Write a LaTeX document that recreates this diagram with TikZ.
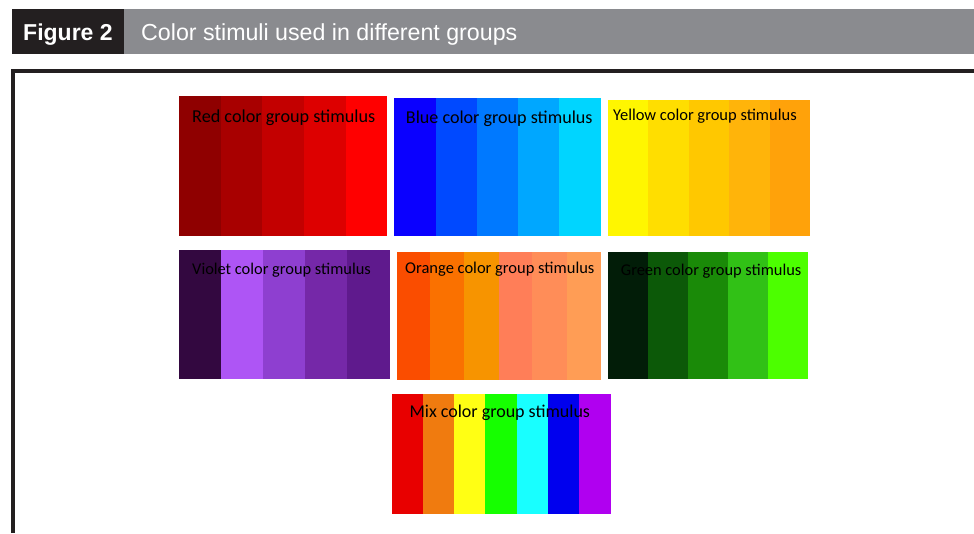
\documentclass[tikz,border=0pt]{standalone}
\usepackage{fontspec}
\setmainfont{Liberation Sans}
\newfontfamily\stimfont{Carlito}
\definecolor{hdrdark}{HTML}{231F20}
\definecolor{hdrgray}{HTML}{8A8B8F}
\definecolor{framec}{HTML}{231F20}
\tikzset{
  stripe/.style={fill=#1, draw=none},
  stimlabel/.style={anchor=base west, inner sep=0pt, text=black, font=\stimfont\fontsize{#1}{#1}\selectfont},
  hdrtext/.style={anchor=base west, inner sep=0pt, text=white},
}
\begin{document}
\begin{tikzpicture}[x=1pt,y=-1pt]
\useasboundingbox (0,0) rectangle (974,533);
% header
\fill[hdrdark] (12,9) rectangle (124,54);
\fill[hdrgray] (124,9) rectangle (974,54);
\node[hdrtext, font=\bfseries\fontsize{23}{23}\selectfont] (figlabel) at (23,40) {Figure 2};
\node[hdrtext, font=\fontsize{23.2}{23.2}\selectfont] (figtitle) at (141,40) {Color stimuli used in different groups};
% frame
\draw[framec, line width=4pt] (13,533) -- (13,71) -- (974,71);
% red
\foreach \xa/\xb/\c in {179/221/8F0000, 221/262.3/A80000, 262.3/304.3/C30000, 304.3/345.7/DD0000, 345.7/387/FF0000}
  {\definecolor{tmp}{HTML}{\c}\fill[tmp] (\xa,96) rectangle (\xb,235.7);}
\node[stimlabel=18.2] (redlab) at (192,122.3) {Red color group stimulus};
% blue
\foreach \xa/\xb/\c in {394/436/0A00FF, 436/477/0049FF, 477/518/0079FF, 518/559/00A7FF, 559/601/00D5FF}
  {\definecolor{tmp}{HTML}{\c}\fill[tmp] (\xa,98.3) rectangle (\xb,235.7);}
\node[stimlabel=18.1] (bluelab) at (405.7,123.3) {Blue color group stimulus};
% yellow
\foreach \xa/\xb/\c in {608/648/FFF600, 648/688.7/FFDE00, 688.7/729.3/FFC800, 729.3/770/FFB40A, 770/810/FFA20A}
  {\definecolor{tmp}{HTML}{\c}\fill[tmp] (\xa,100) rectangle (\xb,235.7);}
\node[stimlabel=16.5] (yellab) at (613,120.7) {Yellow color group stimulus};
% violet
\foreach \xa/\xb/\c in {179/221/330840, 221/263/AE55F5, 263/305/8E3FD0, 305/347/7528A8, 347/390/5F1A8D}
  {\definecolor{tmp}{HTML}{\c}\fill[tmp] (\xa,250) rectangle (\xb,378.7);}
\node[stimlabel=16.4] (viollab) at (192,274.7) {Violet color group stimulus};
% orange
\foreach \xa/\xb/\c in {397/430/FA4D00, 430/464.3/FA7100, 464.3/499/F79400, 499/532.3/FF7E58, 532.3/567/FF8D58, 567/601/FF9D55}
  {\definecolor{tmp}{HTML}{\c}\fill[tmp] (\xa,252) rectangle (\xb,379.7);}
\node[stimlabel=16.5] (oranlab) at (405,273.3) {Orange color group stimulus};
% green
\foreach \xa/\xb/\c in {608/647.7/021D08, 647.7/687.7/0C5908, 687.7/728/1A8A08, 728/768/31C116, 768/808/4CFF00}
  {\definecolor{tmp}{HTML}{\c}\fill[tmp] (\xa,252) rectangle (\xb,378.7);}
\node[stimlabel=16.4] (greenlab) at (620.7,275) {Green color group stimulus};
% mix
\foreach \xa/\xb/\c in {392/422.7/E80000, 422.7/454/F07B0F, 454/485.3/FFFF14, 485.3/516.7/16FF00, 516.7/548/18FFFF, 548/579/0000EE, 579/610.7/B000F0}
  {\definecolor{tmp}{HTML}{\c}\fill[tmp] (\xa,394) rectangle (\xb,513.7);}
\node[stimlabel=18] (mixlab) at (409.3,417.7) {Mix color group stimulus};
\end{tikzpicture}
\end{document}
